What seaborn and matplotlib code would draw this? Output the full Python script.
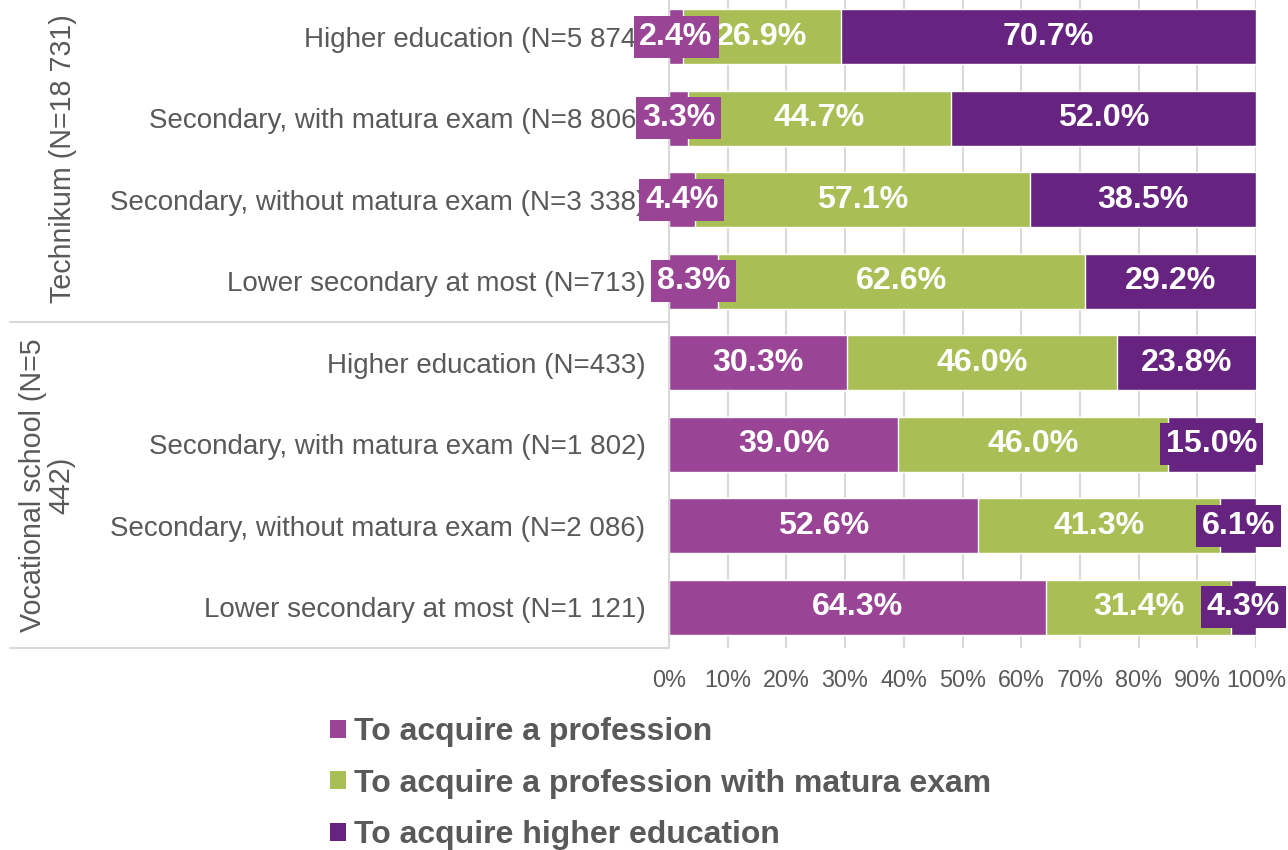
import matplotlib
matplotlib.use("Agg")
import matplotlib.pyplot as plt
import matplotlib.transforms as mtransforms
from matplotlib.patches import Patch
import seaborn as sns
import pandas as pd
import numpy as np

categories = [
    "Higher education (N=5 874)",
    "Secondary, with matura exam (N=8 806)",
    "Secondary, without matura exam (N=3 338)",
    "Lower secondary at most (N=713)",
    "Higher education (N=433)",
    "Secondary, with matura exam (N=1 802)",
    "Secondary, without matura exam (N=2 086)",
    "Lower secondary at most (N=1 121)",
]
profession = [2.4, 3.3, 4.4, 8.3, 30.3, 39.0, 52.6, 64.3]
matura = [26.9, 44.7, 57.1, 62.6, 46.0, 46.0, 41.3, 31.4]
higher = [70.7, 52.0, 38.5, 29.2, 23.8, 15.0, 6.1, 4.3]
series_names = ["To acquire a profession",
                "To acquire a profession with matura exam",
                "To acquire higher education"]
group_labels = ["Technikum (N=18 731)", "Vocational school (N=5\n442)"]
x_ticks = [0, 10, 20, 30, 40, 50, 60, 70, 80, 90, 100]

colors = ["#994495", "#A9BF56", "#662480"]
gray = "#595959"
grid = "#D9D9D9"

sns.set_theme(style="white")
plt.rcParams["font.family"] = ["Liberation Sans", "DejaVu Sans"]

fig = plt.figure(figsize=(12.88, 8.5), dpi=100)
ax = fig.add_axes([669 / 1288, 1 - 648 / 850, 587 / 1288, 652 / 850])

df = pd.DataFrame({"cat": categories, "p": profession, "m": matura, "h": higher})
df["c1"] = df["p"]
df["c2"] = df["p"] + df["m"]
df["c3"] = df["p"] + df["m"] + df["h"]

for col, c in zip(["c3", "c2", "c1"], colors[::-1]):
    sns.barplot(data=df, x=col, y="cat", order=categories, color=c, orient="h",
                width=0.675, saturation=1, ax=ax, zorder=2)

ax.set_xlim(0, 100)
ax.set_ylim(7.5, -0.5)
ax.set_xticks(x_ticks)
ax.set_xticklabels([f"{t}%" for t in x_ticks], fontsize=16.8, color=gray)
ax.tick_params(axis="x", length=0, pad=15)
ax.tick_params(axis="y", length=0, pad=17, labelsize=20, labelcolor=gray)
ax.set_xlabel("")
ax.set_ylabel("")
ax.xaxis.grid(True, color=grid, linewidth=1.5, zorder=0)
ax.set_axisbelow(True)
for s in ["top", "right", "bottom"]:
    ax.spines[s].set_visible(False)
ax.spines["left"].set_color(grid)
ax.spines["left"].set_linewidth(1.5)

# value labels
for i in range(len(categories)):
    left = 0.0
    for j, v in enumerate([profession[i], matura[i], higher[i]]):
        cx = left + v / 2
        kw = {}
        if v < 16:
            kw["bbox"] = dict(boxstyle="square,pad=0.18", fc=colors[j], ec="none")
        ax.text(cx, i, f"{v:.1f}%", ha="center", va="center", color="white",
                fontsize=23.2, fontweight="bold", zorder=5 + (2 - j), clip_on=False, **kw)
        left += v

# group separator lines and labels
bt = mtransforms.blended_transform_factory(ax.transAxes, ax.transData)
x0 = (10 - 669) / 587
for yv in [3.5, 7.5]:
    ax.plot([x0, 0], [yv, yv], transform=bt, color=grid, lw=1.5, clip_on=False)

ft = mtransforms.blended_transform_factory(fig.transFigure, ax.transData)
fig.text(63 / 1288, 1.5, group_labels[0], transform=ft, rotation=90,
         ha="center", va="center", fontsize=20.6, color=gray)
fig.text(47 / 1288, 5.5, group_labels[1], transform=ft, rotation=90,
         ha="center", va="center", fontsize=20.6, color=gray,
         multialignment="center", linespacing=1.02)

handles = [Patch(facecolor=c, edgecolor="none") for c in colors]
leg = fig.legend(handles, series_names, loc="upper left",
                 bbox_to_anchor=(330 / 1288, 1 - 717 / 850), frameon=False,
                 borderpad=0, borderaxespad=0, handlelength=0.5, handleheight=0.5,
                 handletextpad=0.25, labelspacing=0.68,
                 prop={"size": 23, "weight": "bold"})
for t in leg.get_texts():
    t.set_color(gray)

fig.savefig("out.png", dpi=100)
